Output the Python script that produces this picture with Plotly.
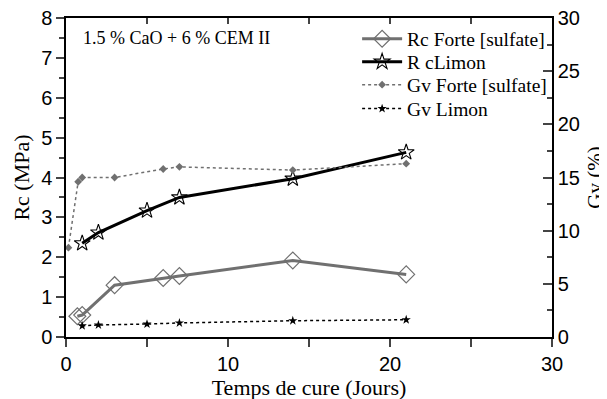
import plotly.graph_objects as go

# Data
days_rc_forte = [0.7, 1, 3, 6, 7, 14, 21]
rc_forte = [0.52, 0.55, 1.3, 1.48, 1.53, 1.92, 1.57]

days_rc_limon = [1, 2, 5, 7, 14, 21]
rc_limon = [2.35, 2.62, 3.17, 3.5, 3.97, 4.63]

days_gv_forte = [0.15, 0.75, 1, 3, 6, 7, 14, 21]
gv_forte = [8.4, 14.6, 15.0, 15.0, 15.8, 16.0, 15.7, 16.3]

days_gv_limon = [1, 2, 5, 7, 14, 21]
gv_limon = [1.05, 1.13, 1.22, 1.32, 1.53, 1.62]

SERIF = "Liberation Serif, Times New Roman, serif"
SANS = "Liberation Sans, Arial, sans-serif"
GREY = "#707070"

fig = go.Figure()

fig.add_trace(go.Scatter(
    x=days_rc_forte, y=rc_forte, name="Rc Forte [sulfate]", mode="lines+markers",
    line=dict(color=GREY, width=3),
    marker=dict(symbol="diamond-open", size=13, color=GREY, line=dict(width=1.2)),
    yaxis="y", legend="legend"))
fig.add_trace(go.Scatter(
    x=days_rc_limon, y=rc_limon, name="R cLimon", mode="lines+markers",
    line=dict(color="#000000", width=3),
    marker=dict(symbol="star-open", size=12, color="#000000", line=dict(width=1.1)),
    yaxis="y", legend="legend2"))
fig.add_trace(go.Scatter(
    x=days_gv_forte, y=gv_forte, name="Gv Forte [sulfate]", mode="lines+markers",
    line=dict(color=GREY, width=1.5, dash="dot"),
    marker=dict(symbol="diamond", size=6, color=GREY),
    yaxis="y2", legend="legend3"))
fig.add_trace(go.Scatter(
    x=days_gv_limon, y=gv_limon, name="Gv Limon", mode="lines+markers",
    line=dict(color="#000000", width=1.5, dash="dot"),
    marker=dict(symbol="star", size=7, color="#000000"),
    yaxis="y2", legend="legend4"))
# empty trace so that the top axis is drawn
fig.add_trace(go.Scatter(x=[], y=[], xaxis="x2", yaxis="y", showlegend=False, hoverinfo="skip"))

LEG_FONT = dict(family=SERIF, size=19.5, color="black")
def leg(y):
    return dict(x=0.599, y=y, xanchor="left", yanchor="middle", bgcolor="rgba(0,0,0,0)",
                font=LEG_FONT, itemwidth=40)

fig.update_layout(
    width=607, height=399,
    margin=dict(l=58, r=63, t=10, b=70),
    paper_bgcolor="white", plot_bgcolor="white",
    showlegend=True,
    legend=leg(0.934), legend2=leg(0.862), legend3=leg(0.79), legend4=leg(0.715),
    xaxis=dict(range=[0, 30], dtick=10, ticks="outside", ticklen=8, tickwidth=1.5, automargin=False,
               showline=True, linecolor="black", linewidth=1.5, showgrid=False, zeroline=False,
               ticklabeloverflow="allow",
               minor=dict(dtick=5, ticks="outside", ticklen=8, tickwidth=1.5, showgrid=False),
               tickfont=dict(family=SANS, size=20, color="black"),
               title=dict(text="Temps de cure (Jours)", font=dict(family=SERIF, size=22, color="black"), standoff=6)),
    xaxis2=dict(range=[0, 30], overlaying="x", side="top", dtick=5, ticks="inside", ticklen=6,
                tickwidth=1.5, showticklabels=False, showline=True, linecolor="black", linewidth=1.5,
                showgrid=False, zeroline=False, automargin=False),
    yaxis=dict(range=[0, 8], dtick=1, ticks="outside", ticklen=8, tickwidth=1.5, automargin=False,
               showline=True, linecolor="black", linewidth=1.5, showgrid=False, zeroline=False,
               ticklabeloverflow="allow",
               minor=dict(dtick=0.5, ticks="outside", ticklen=5, tickwidth=1.5, showgrid=False),
               tickfont=dict(family=SANS, size=20, color="black"),
               title=dict(text="Rc (MPa)", font=dict(family=SERIF, size=22, color="black"), standoff=5)),
    yaxis2=dict(range=[0, 30], dtick=5, overlaying="y", side="right", ticks="inside", ticklen=9,
                tickwidth=1.5, showline=True, linecolor="black", linewidth=1.5, showgrid=False,
                zeroline=False, automargin=False, ticklabeloverflow="allow",
                minor=dict(dtick=2.5, ticks="inside", ticklen=5, tickwidth=1.5, showgrid=False),
                tickfont=dict(family=SANS, size=20, color="black"),
                title=dict(text="Gv (%)", font=dict(family=SERIF, size=21, color="black"), standoff=8)),
    annotations=[dict(text="1.5 % CaO + 6 % CEM II", x=0.031, y=0.937, xref="paper", yref="paper",
                      xanchor="left", yanchor="middle", showarrow=False,
                      font=dict(family=SERIF, size=18, color="black"))],
)

fig.write_html("out.html")
